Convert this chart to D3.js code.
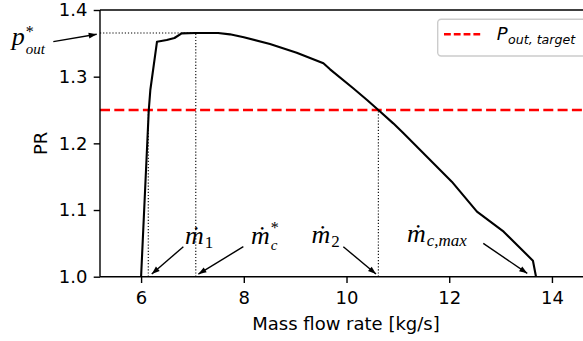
<!DOCTYPE html>
<html>
<head>
<meta charset="utf-8">
<script src="https://cdn.jsdelivr.net/npm/d3@7"></script>
<style>
  html, body { margin: 0; padding: 0; background: #fff; }
  svg { display: block; }
</style>
</head>
<body>
<svg id="chart" width="583" height="341"></svg>
<script>
// ---- data ----
const massFlow = [6.0, 6.15, 6.18, 6.31, 6.5, 6.65, 6.79, 7.06, 7.5, 7.73, 8.0, 8.51, 9.03, 9.55, 9.68, 10.13, 10.4, 10.62, 10.91, 11.11, 12.05, 12.54, 13.06, 13.63, 13.69];
const pressureRatio = [1.0, 1.25, 1.28, 1.3525, 1.355, 1.358, 1.365, 1.3655, 1.3655, 1.3635, 1.359, 1.349, 1.336, 1.32, 1.311, 1.2826, 1.265, 1.25, 1.23, 1.215, 1.1425, 1.0975, 1.0675, 1.024, 1.0];
const xTicks = [6, 8, 10, 12, 14];
const yTicks = [1.0, 1.1, 1.2, 1.3, 1.4];
const pTarget = 1.25;
const pStar = 1.3655;
const mStar = 7.065;
const m1 = 6.14;
const m2 = 10.62;
// annotations: label anchor (data) and arrow start/end (data)
const annLabels = ["p", "ṁ", "ṁ", "ṁ", "ṁ"];
const annSup = ["*", "", "*", "", ""];
const annSub = ["out", "1", "c", "2", "c,max"];
const annText = [[3.481, 1.3475], [6.856, 1.049], [8.141, 1.049], [9.319, 1.0498], [11.178, 1.0513]];
const annFrom = [[4.291, 1.3525], [6.823, 1.045], [7.991, 1.045], [9.938, 1.045], [12.663, 1.050]];
const annTo = [[5.136, 1.3636], [6.208, 1.004], [7.115, 1.004], [10.574, 1.004], [13.519, 1.005]];
const legendLabel = "P";
const legendSub = "out, target";

// ---- layout ----
const svg = d3.select("#chart");
const pLeft = 100, pRight = 592, pTop = 10, pBottom = 276.7;
const x = d3.scaleLinear().domain([5.2, 14.78]).range([pLeft, pRight]);
const y = d3.scaleLinear().domain([1.0, 1.4]).range([pBottom, pTop]);
const sansFont = "'DejaVu Sans', sans-serif";
const serifFont = "'Liberation Serif', 'DejaVu Serif', serif";
// script offsets (px) per annotation
const supShift = [-8.5, 0, -11.5, 0, 0];
const subShift = [9, 4, 6, 4, 4];

svg.append("defs").append("marker")
  .attr("id", "ah").attr("markerUnits", "userSpaceOnUse")
  .attr("viewBox", "0 -5 10 10").attr("refX", 10).attr("refY", 0)
  .attr("markerWidth", 11).attr("markerHeight", 8).attr("orient", "auto")
  .append("path").attr("d", "M0,-3.6L10,0L0,3.6Z").attr("fill", "#000");

const plot = svg.append("g");

// dotted guide lines
const dotted = (x1, y1, x2, y2) => plot.append("line")
  .attr("x1", x(x1)).attr("y1", y(y1)).attr("x2", x(x2)).attr("y2", y(y2))
  .attr("stroke", "#000").attr("stroke-width", 1.1).attr("stroke-dasharray", "1.2,1.9");
dotted(5.2, pStar, mStar, pStar);
dotted(mStar, 1.0, mStar, pStar);
dotted(m1, 1.0, m1, pTarget);
dotted(m2, 1.0, m2, pTarget);

// target line
plot.append("line")
  .attr("x1", x(5.2)).attr("x2", x(14.78)).attr("y1", y(pTarget)).attr("y2", y(pTarget))
  .attr("stroke", "#ff0000").attr("stroke-width", 2.4).attr("stroke-dasharray", "10,4.3");

// curve
const line = d3.line().x((d, i) => x(massFlow[i])).y((d, i) => y(pressureRatio[i]));
plot.append("path").datum(massFlow).attr("d", line)
  .attr("fill", "none").attr("stroke", "#000").attr("stroke-width", 2.1)
  .attr("stroke-linejoin", "round");

// axes
const xAxis = svg.append("g").attr("transform", `translate(0,${pBottom})`)
  .call(d3.axisBottom(x).tickValues(xTicks).tickFormat(d3.format("d")).tickSize(6.3).tickPadding(6.3));
const yAxis = svg.append("g").attr("transform", `translate(${pLeft},0)`)
  .call(d3.axisLeft(y).tickValues(yTicks).tickFormat(d3.format(".1f")).tickSize(6.3).tickPadding(6.3));
[xAxis, yAxis].forEach(a => {
  a.select(".domain").remove();
  a.selectAll(".tick line").attr("stroke", "#000").attr("stroke-width", 1.4);
  a.selectAll(".tick text").attr("fill", "#000").style("font-family", sansFont).style("font-size", "18px");
});
// spines
svg.append("line").attr("x1", pLeft).attr("x2", pRight).attr("y1", pBottom).attr("y2", pBottom).attr("stroke", "#000").attr("stroke-width", 1.4);
svg.append("line").attr("x1", pLeft).attr("x2", pRight).attr("y1", pTop).attr("y2", pTop).attr("stroke", "#000").attr("stroke-width", 1.4);
svg.append("line").attr("x1", pLeft).attr("x2", pLeft).attr("y1", pTop).attr("y2", pBottom).attr("stroke", "#000").attr("stroke-width", 1.4);

xAxis.selectAll(".tick text").attr("dy", null).attr("y", 27.5);

// axis labels
svg.append("text").attr("x", 346).attr("y", 330).attr("text-anchor", "middle")
  .style("font-family", sansFont).style("font-size", "18px").text("Mass flow rate [kg/s]");
svg.append("text").attr("transform", "translate(47,143.3) rotate(-90)").attr("text-anchor", "middle")
  .style("font-family", sansFont).style("font-size", "18px").text("PR");

// annotations
const ann = svg.append("g");
annLabels.forEach((lab, i) => {
  ann.append("line")
    .attr("x1", x(annFrom[i][0])).attr("y1", y(annFrom[i][1]))
    .attr("x2", x(annTo[i][0])).attr("y2", y(annTo[i][1]))
    .attr("stroke", "#000").attr("stroke-width", 1.4).attr("marker-end", "url(#ah)");
  const tx = x(annText[i][0]), ty = y(annText[i][1]);
  const t = ann.append("text").attr("x", tx).attr("y", ty)
    .style("font-family", serifFont).style("font-style", "italic").style("font-size", "26px").text(lab);
  const w = t.node().getComputedTextLength();
  if (annSup[i]) {
    ann.append("text").attr("x", tx + w + 1).attr("y", ty + supShift[i])
      .style("font-family", serifFont).style("font-size", "16px").text(annSup[i]);
  }
  const isDigit = /^[0-9]+$/.test(annSub[i]);
  ann.append("text").attr("x", tx + w + 1).attr("y", ty + subShift[i])
    .style("font-family", serifFont).style("font-style", isDigit ? "normal" : "italic")
    .style("font-size", annSup[i] ? "15px" : "17px").text(annSub[i]);
});

// legend
const lg = svg.append("g");
lg.append("rect").attr("x", 437.7).attr("y", 19.3).attr("width", 150).attr("height", 36.7)
  .attr("rx", 3.5).attr("fill", "#fff").attr("fill-opacity", 0.8)
  .attr("stroke", "#cccccc").attr("stroke-width", 1.4);
lg.append("line").attr("x1", 444).attr("x2", 481).attr("y1", 34.3).attr("y2", 34.3)
  .attr("stroke", "#ff0000").attr("stroke-width", 2.4).attr("stroke-dasharray", "6.8,3");
const lt = lg.append("text").attr("x", 496.7).attr("y", 40)
  .style("font-family", sansFont).style("font-style", "italic").style("font-size", "18px");
lt.append("tspan").text(legendLabel);
lt.append("tspan").attr("dx", 0.5).attr("dy", 3.5).style("font-size", "12.6px").text(legendSub);
</script>
</body>
</html>
